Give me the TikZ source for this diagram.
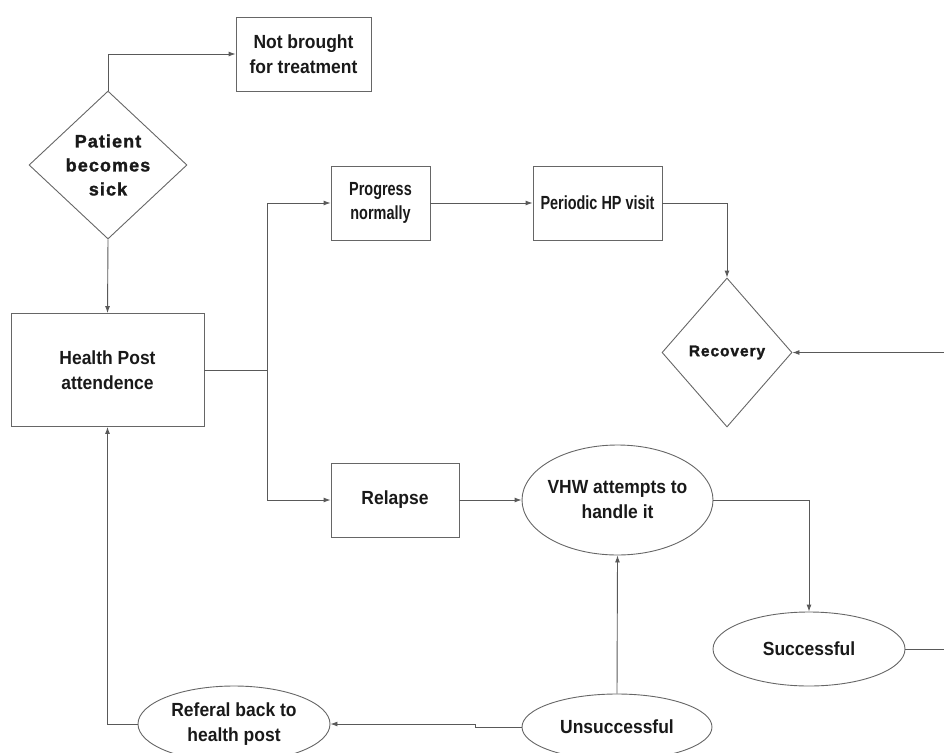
\documentclass[tikz,border=0pt]{standalone}
\usepackage{fontspec}
\setmainfont{Liberation Sans}[FakeStretch=0.92]
\newfontfamily\narrowfont{Liberation Sans}[FakeStretch=0.76]
\newfontfamily\heavyfont{Liberation Sans Bold}[LetterSpace=6, FakeBold=1.5]
\usetikzlibrary{shapes.geometric,arrows.meta}

\begin{document}
\begin{tikzpicture}[x=1pt, y=-1pt, >={Latex[length=7pt,width=5pt]},
    every node/.style={font=\bfseries\fontsize{19}{25}\selectfont, text=black!90, align=center, inner sep=0pt},
    box/.style={rectangle, draw=black!60, line width=0.9pt},
    oval/.style={ellipse, draw=black!60, line width=0.9pt, inner sep=-6pt},
    decision/.style={diamond, draw=black!60, line width=0.9pt, inner sep=-4pt},
    flow/.style={->, draw=black!65, line width=0.9pt}]
    \useasboundingbox (0,0) rectangle (944,752);

    % upper part
    \node[decision, minimum width=158, minimum height=148, font=\heavyfont\fontsize{18}{24}\selectfont] (sick) at (108,165) {Patient\\becomes\\sick};
    \node[box, minimum width=135, minimum height=74] (notbrought) at (303.5,54) {Not brought\\for treatment};
    \node[box, minimum width=193, minimum height=113] (hp) at (107.5,370) {Health Post\\attendence};
    \node[box, minimum width=99, minimum height=74, font=\narrowfont\bfseries\fontsize{19}{24}\selectfont] (progress) at (380.5,203) {Progress\\normally};
    \node[box, minimum width=129, minimum height=74, font=\narrowfont\bfseries\fontsize{19}{24}\selectfont] (periodic) at (597.5,203) {Periodic HP visit};
    \node[decision, minimum width=130, minimum height=149, font=\heavyfont\fontsize{15.5}{20}\selectfont] (recovery) at (727,352.5) {Recovery};

    % lower part
    \node[box, minimum width=128, minimum height=74] (relapse) at (395,500) {Relapse};
    \node[oval, minimum width=191, minimum height=110] (vhw) at (617.5,500) {VHW attempts to\\handle it};
    \node[oval, minimum width=192, minimum height=74] (successful) at (809,649) {Successful};
    \node[oval, minimum width=190, minimum height=66] (unsuccessful) at (617,727) {Unsuccessful};
    \node[oval, minimum width=192, minimum height=76] (referal) at (234,724) {Referal back to\\health post};

    \coordinate (split) at (267,370);

    \draw[flow] (sick.north) |- (notbrought.west);
    \draw[flow] (sick.south) -- (hp.north);
    \draw[flow] (hp.east) -- (split) |- (progress.west);
    \draw[flow] (split) |- (relapse.west);
    \draw[flow] (progress.east) -- (periodic.west);
    \draw[flow] (periodic.east) -| (recovery.north);
    \draw[flow] (relapse.east) -- (vhw.west);
    \draw[flow] (vhw.east) -| (successful.north);
    \draw[flow] (successful.east) -- ++(60,0) |- (recovery.east);
    \draw[flow] (unsuccessful.north) -- (vhw.south);
    \draw[flow] (unsuccessful.west) -- (475,727) -- (475,724) -- (referal.east);
    \draw[flow] (referal.west) -| (hp.south);
\end{tikzpicture}
\end{document}
